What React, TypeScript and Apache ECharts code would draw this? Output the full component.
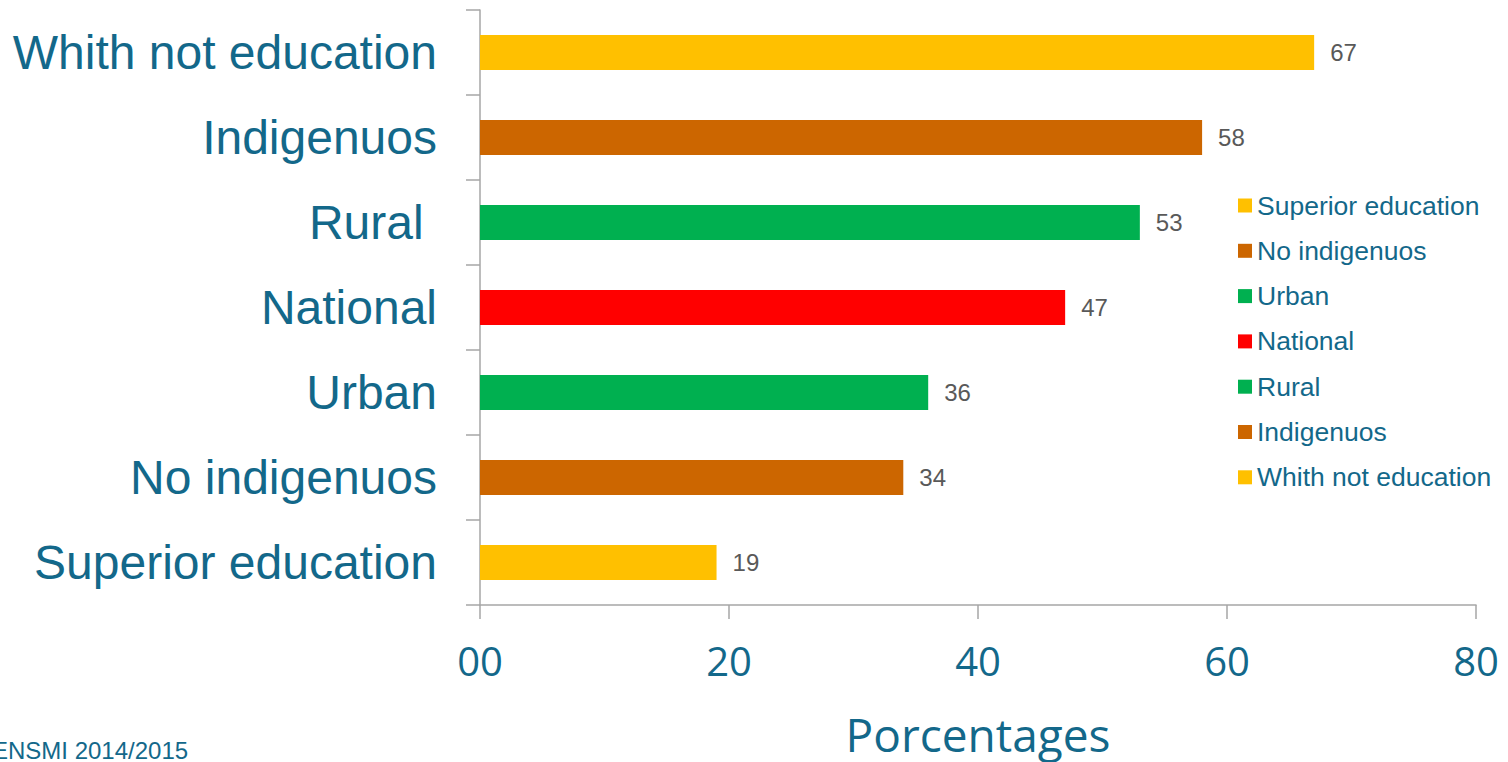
import React, { useEffect, useRef } from "react";
import * as echarts from "echarts";

// Categories from bottom to top
const categories = [
  "Superior education",
  "No indigenuos",
  "Urban",
  "National",
  "Rural ",
  "Indigenuos",
  "Whith not education",
];
const seriesNames = [
  "Superior education",
  "No indigenuos",
  "Urban",
  "National",
  "Rural",
  "Indigenuos",
  "Whith not education",
];
const values = [19, 34, 36, 47, 53, 58, 67];
const barColors = ["#FFC000", "#CC6600", "#00B050", "#FF0000", "#00B050", "#CC6600", "#FFC000"];
const xTicks = [0, 20, 40, 60, 80];
const xTickLabels = ["00", "20", "40", "60", "80"];
const axisName = "Porcentages";
const sourceNote = "ENSMI 2014/2015";

const TEAL = "#13688A";

export default function App() {
  const ref = useRef<HTMLDivElement>(null);
  useEffect(() => {
    if (!ref.current) return;
    const chart = echarts.init(ref.current, undefined, { renderer: "svg" });
    const series = seriesNames.map((name, i) => ({
      name,
      type: "bar",
      stack: "all",
      barWidth: 35,
      itemStyle: { color: barColors[i] },
      label: {
        show: true,
        position: "right",
        distance: 16,
        color: "#595959",
        fontSize: 24,
        fontFamily: "Liberation Sans, Arial, sans-serif",
      },
      data: categories.map((_, j) => (j === i ? values[i] : "-")),
    }));
    chart.setOption({
      animation: false,
      backgroundColor: "#ffffff",
      grid: { left: 480, right: 32, top: 10, bottom: 145, containLabel: false },
      legend: {
        orient: "vertical",
        left: 1233,
        top: 187,
        icon: "rect",
        itemWidth: 14,
        itemHeight: 14,
        itemGap: 18.3,
        textStyle: {
          color: TEAL,
          fontSize: 26.5,
          fontFamily: "Liberation Sans, Arial, sans-serif",
        },
        data: seriesNames.slice(),
      },
      xAxis: {
        type: "value",
        min: xTicks[0],
        max: xTicks[xTicks.length - 1],
        interval: xTicks[1] - xTicks[0],
        axisLine: { show: true, lineStyle: { color: "#A6A6A6", width: 1.5 } },
        axisTick: { show: true, length: 14, lineStyle: { color: "#A6A6A6", width: 1.5 } },
        splitLine: { show: false },
        axisLabel: {
          margin: 35,
          color: TEAL,
          fontSize: 40,
          fontFamily: "Open Sans, sans-serif",
          formatter: (v: number) => xTickLabels[xTicks.indexOf(v)] ?? String(v),
        },
        name: axisName,
        nameLocation: "middle",
        nameGap: 106,
        nameTextStyle: {
          color: TEAL,
          fontSize: 46,
          fontFamily: "Open Sans, sans-serif",
        },
      },
      yAxis: {
        type: "category",
        data: categories,
        axisLine: { show: true, lineStyle: { color: "#A6A6A6", width: 1.5 } },
        axisTick: { show: true, length: 14, lineStyle: { color: "#A6A6A6", width: 1.5 } },
        axisLabel: {
          margin: 43,
          color: TEAL,
          fontSize: 48,
          fontFamily: "Liberation Sans, Arial, sans-serif",
        },
      },
      graphic: [
        {
          type: "text",
          left: -8,
          top: 738,
          style: {
            text: sourceNote,
            fill: TEAL,
            fontSize: 24,
            fontFamily: "Liberation Sans, Arial, sans-serif",
          },
        },
      ],
      series,
    });
    return () => chart.dispose();
  }, []);
  return <div ref={ref} style={{ width: 1508, height: 762, position: "absolute", left: 0, top: 0 }} />;
}
